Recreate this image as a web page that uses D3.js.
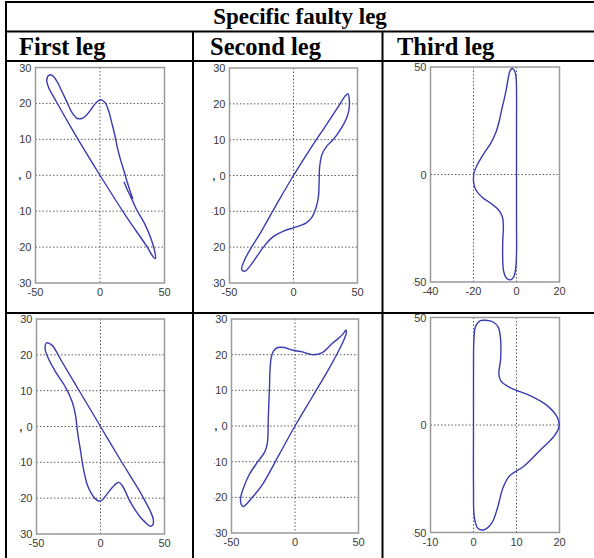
<!DOCTYPE html>
<html><head><meta charset="utf-8">
<script src="https://cdn.jsdelivr.net/npm/d3@7"></script>
<style>body{margin:0;background:#fff}svg{display:block}</style>
</head><body>
<svg id="c" width="594" height="558"></svg>
<script>
// ---------- data ----------
const title = "Specific faulty leg";
const columnHeaders = ["First leg", "Second leg", "Third leg"];

const xTicksLeg12 = [-50, 0, 50];
const yTicksLeg12 = [-30, -20, -10, 0, 10, 20, 30];
const xTicksThirdTop = [-40, -20, 0, 20];
const xTicksThirdBottom = [-10, 0, 10, 20];
const yTicksThird = [-50, 0, 50];

const firstLegTop = [[18.6,-1.8],[21,-3.9],[23.8,-6],[26,-7.7],[28.4,-9.6],[34.5,-13.4],[39.5,-17.6],[42.3,-21],[43,-23.2],[41,-22.6],[37,-20.2],[20,-11.3],[0,0],[-20,11.8],[-34,20.6],[-40,24.6],[-41.3,26.5],[-39.5,27.9],[-37,27.8],[-33,25.9],[-29.6,23.4],[-25.5,20.3],[-21.9,17.6],[-17.5,15.8],[-14.2,15.8],[-10.3,16.8],[-6,18.8],[-2.5,20.4],[1,21],[4,20.2],[6.8,17.8],[9.2,14.5],[11.6,11],[13.8,7.2],[16,4.2],[18.6,1.2],[21.1,-1.9],[23.5,-4.6],[25.5,-6.6]];

const secondLegTop = [[-40.4,-26.3],[-38,-23.4],[-25,-15.5],[-12,-7.3],[0,0],[12,6.8],[25,13.8],[35,19.2],[40,22],[42.5,22.8],[43.6,21.2],[43.4,18.5],[41.7,16.2],[37.5,13.3],[31,10],[26,8.2],[22.2,5.8],[20.4,2.3],[20,-2],[19.5,-5.8],[17.6,-9],[14.5,-11.6],[10,-13.2],[5,-14],[0,-14.6],[-7.8,-15.5],[-15.6,-17],[-22,-19.3],[-28.5,-22.5],[-34,-25.3],[-37.8,-26.7]];

const thirdLegTop = [[0,40],[0,20],[0,0],[0,-20],[0,-37],[-0.4,-44],[-1.4,-47.8],[-3,-49],[-4.8,-48],[-6,-45],[-6.4,-40],[-6.4,-31],[-6.1,-24],[-6.6,-19.5],[-8.6,-16.2],[-12,-13.4],[-16,-10.6],[-19,-7],[-20,-3],[-19.7,1],[-18,5],[-15,10],[-12,14.5],[-9.6,19.5],[-8,25],[-6.8,30.5],[-5.5,36],[-4.5,41],[-3.8,45],[-3,48.3],[-1.9,49.3],[-0.8,48],[-0.2,45]];

const firstLegBottom = [[-42.3,23.3],[-38,22.7],[-30,18],[-15,9],[0,0],[15,-9],[30,-17.7],[34.5,-20.6],[39,-23.7],[41.3,-26],[40.8,-27.5],[38.5,-27.8],[35.5,-26.9],[31.3,-25.4],[23.5,-21.2],[17.2,-16.6],[14.4,-15.6],[12,-16],[9.5,-16.9],[5.2,-18.8],[1.3,-20.5],[-1.3,-20.8],[-4,-20.2],[-6.8,-18.9],[-10.2,-16.4],[-13.6,-11.3],[-15.7,-6.5],[-17.8,-1.9],[-19.6,3.3],[-22.2,7],[-27.4,11],[-35.2,15.3],[-41.5,19.6],[-43.2,21.5]];

const secondLegBottom = [[-42.3,-22],[-40.5,-22.6],[-38,-21.8],[-35,-20.6],[-25.8,-16.5],[-12.6,-8.1],[0,0],[13.7,8.2],[26.8,16.1],[34.7,21.3],[38.7,24.3],[40.5,26.3],[40.2,26.9],[38,25.9],[34,24.5],[29.5,23.2],[21.6,20.6],[13.7,20],[5.8,20.8],[-2.1,21.3],[-8.5,22],[-13.5,22],[-17,21],[-18.8,19],[-19.7,15.5],[-20,11.9],[-21,2.6],[-21.8,-4.9],[-23.7,-7.2],[-29.7,-10.2],[-36.3,-13.8],[-40.8,-17.6],[-42.9,-20.4]];

const thirdLegBottom = [[0,27.3],[0.1,39.7],[0.5,46],[1.6,48.5],[2.8,48.7],[4.6,47.9],[5.8,45.3],[6.3,39.7],[6.3,30.4],[5.9,23.6],[6.4,20.4],[8.6,17.3],[13.3,13.5],[17.2,8.9],[19.5,3.5],[19.9,-0.6],[18.7,-5.3],[15.6,-11.5],[11.7,-19.2],[8.4,-23.6],[6.8,-29.5],[5.6,-38.5],[4.2,-45.8],[2.5,-48.7],[1,-48],[0.2,-43],[0,-28.5],[0,0]];

// ---------- layout ----------
const panels = [
  {data:firstLegTop,   closed:false, xd:[-50,50], yd:[-30,30], xt:xTicksLeg12, yt:yTicksLeg12, xg:[0], yg:[-20,-10,0,10,20], box:[35.5,67.5,129,215.5], mark:true},
  {data:secondLegTop,  closed:true,  xd:[-50,50], yd:[-30,30], xt:xTicksLeg12, yt:yTicksLeg12, xg:[0], yg:[-20,-10,0,10,20], box:[229.5,68,128,215], mark:true},
  {data:thirdLegTop,   closed:true,  xd:[-40,20], yd:[-50,50], xt:xTicksThirdTop, yt:yTicksThird, xg:[-20,0], yg:[0], box:[430.5,67,129,215], mark:false},
  {data:firstLegBottom,closed:true,  xd:[-50,50], yd:[-30,30], xt:xTicksLeg12, yt:yTicksLeg12, xg:[0], yg:[-20,-10,0,10,20], box:[36.5,319,128,215], mark:true},
  {data:secondLegBottom,closed:true, xd:[-50,50], yd:[-30,30], xt:xTicksLeg12, yt:yTicksLeg12, xg:[0], yg:[-20,-10,0,10,20], box:[231.5,319,127,214], mark:true},
  {data:thirdLegBottom,closed:true,  xd:[-10,20], yd:[-50,50], xt:xTicksThirdBottom, yt:yTicksThird, xg:[0,10], yg:[0], box:[430.5,317.5,129,215], mark:false}
];

const svg = d3.select("#c");
const defs = svg.append("defs");
const serif = "'Liberation Serif', 'Times New Roman', serif";
const sans = "'Liberation Sans', Arial, sans-serif";

// table text
svg.append("text").attr("x", 300).attr("y", 24).attr("text-anchor","middle")
  .attr("font-family", serif).attr("font-weight","bold")
  .attr("font-size", 23).attr("fill","#000").text(title);
const headerX = [19, 210, 397];
columnHeaders.forEach((h,i)=>{
  svg.append("text").attr("x", headerX[i]).attr("y", 55)
    .attr("font-family", serif).attr("font-weight","bold")
    .attr("font-size", 24.5).attr("fill","#000").text(h);
});

// panels
panels.forEach((p,i)=>{
  const [L,T,Wd,Ht] = p.box;
  const x = d3.scaleLinear().domain(p.xd).range([L, L+Wd]);
  const y = d3.scaleLinear().domain(p.yd).range([T+Ht, T]);
  const g = svg.append("g");
  // grid
  g.selectAll(".gx").data(p.xg).enter().append("line")
    .attr("x1", d=>x(d)).attr("x2", d=>x(d)).attr("y1", T).attr("y2", T+Ht)
    .attr("stroke","#333").attr("stroke-width",0.8).attr("stroke-dasharray","1.5,2");
  g.selectAll(".gy").data(p.yg).enter().append("line")
    .attr("y1", d=>y(d)).attr("y2", d=>y(d)).attr("x1", L).attr("x2", L+Wd)
    .attr("stroke","#333").attr("stroke-width",0.8).attr("stroke-dasharray","1.5,2");
  // frame
  g.append("rect").attr("x",L).attr("y",T).attr("width",Wd).attr("height",Ht)
    .attr("fill","none").attr("stroke","#9a9a9a").attr("stroke-width",1.5);
  // y tick labels (clipped at the left like the source image)
  defs.append("clipPath").attr("id","cl"+i).append("rect")
    .attr("x", L-17.3).attr("y", 0).attr("width", 600).attr("height", 558);
  const yl = g.append("g").attr("clip-path","url(#cl"+i+")");
  yl.selectAll("text").data(p.yt).enter().append("text")
    .attr("x", L-4).attr("y", d=>y(d)+4).attr("text-anchor","end")
    .attr("font-family", sans).attr("font-size",11).attr("fill","#3a3a3a")
    .text(d=>String(d));
  // x tick labels
  g.selectAll(".xl").data(p.xt).enter().append("text")
    .attr("x", d=>x(d)).attr("y", T+Ht+13).attr("text-anchor","middle")
    .attr("font-family", sans).attr("font-size",11).attr("fill","#3a3a3a")
    .text(d=>String(d));
  if (p.mark) {
    g.append("text").attr("x", L-17).attr("y", y(0)+4)
      .attr("font-family", sans).attr("font-size",10).attr("font-weight","bold")
      .attr("fill","#222").text(",");
  }
  // curve
  const line = d3.line().x(d=>x(d[0])).y(d=>y(d[1]))
    .curve(p.closed ? d3.curveCatmullRomClosed.alpha(0.5) : d3.curveCatmullRom.alpha(0.5));
  g.append("path").attr("d", line(p.data)).attr("fill","none")
    .attr("stroke","#3b3bb0").attr("stroke-width",1.4);
});

// table borders
const border = (x1,y1,x2,y2)=>svg.append("line").attr("x1",x1).attr("y1",y1).attr("x2",x2).attr("y2",y2)
  .attr("stroke","#000").attr("stroke-width",2);
border(5,2,594,2);
border(6,1,6,558);
border(5,31.5,594,31.5);
border(5,61,594,61);
border(5,313,594,313);
border(193,31,193,558);
border(382.5,31,382.5,558);
</script>
</body></html>
